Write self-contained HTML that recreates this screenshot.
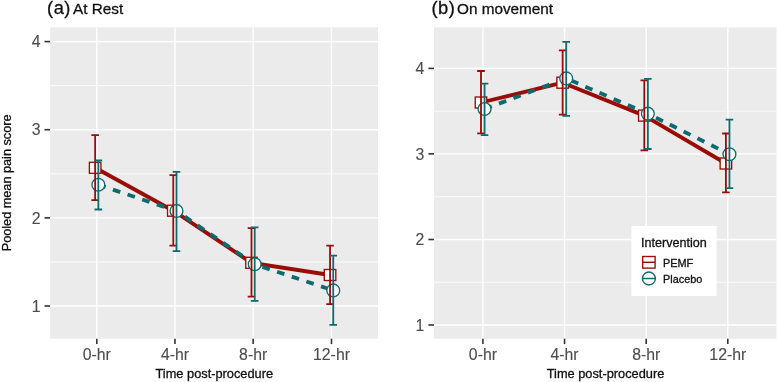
<!DOCTYPE html>
<html><head><meta charset="utf-8"><title>chart</title>
<style>
html,body{margin:0;padding:0;background:#fff;}
text{stroke-width:0.3px;} svg{display:block;font-family:"Liberation Sans",sans-serif;will-change:transform;}
</style></head><body>
<svg width="777" height="382" viewBox="0 0 777 382">
<rect width="777" height="382" fill="#fff"/>
<rect x="50.1" y="27.4" width="327.9" height="311.3" fill="#ebebeb"/>
<line x1="50.1" x2="378" y1="85.65" y2="85.65" stroke="#fff" stroke-width="0.8"/>
<line x1="50.1" x2="378" y1="173.8" y2="173.8" stroke="#fff" stroke-width="0.8"/>
<line x1="50.1" x2="378" y1="261.95" y2="261.95" stroke="#fff" stroke-width="0.8"/>
<line x1="50.1" x2="378" y1="41.6" y2="41.6" stroke="#fff" stroke-width="1.4"/>
<line x1="50.1" x2="378" y1="129.7" y2="129.7" stroke="#fff" stroke-width="1.4"/>
<line x1="50.1" x2="378" y1="217.9" y2="217.9" stroke="#fff" stroke-width="1.4"/>
<line x1="50.1" x2="378" y1="306.0" y2="306.0" stroke="#fff" stroke-width="1.4"/>
<line x1="96.8" x2="96.8" y1="27.4" y2="338.7" stroke="#fff" stroke-width="1.4"/>
<line x1="174.95" x2="174.95" y1="27.4" y2="338.7" stroke="#fff" stroke-width="1.4"/>
<line x1="253.15" x2="253.15" y1="27.4" y2="338.7" stroke="#fff" stroke-width="1.4"/>
<line x1="331.5" x2="331.5" y1="27.4" y2="338.7" stroke="#fff" stroke-width="1.4"/>
<polyline points="95.1,167.8 173.3,210.7 251.5,262.8 330.1,275.0" fill="none" stroke="#990d06" stroke-width="3.85" stroke-linejoin="round"/>
<polyline points="98.3,184.7 176.5,211.0 254.7,264.3 333.2,290.4" fill="none" stroke="#0f6a70" stroke-width="3.85" stroke-dasharray="7.72 7.72" stroke-linejoin="round"/>
<rect x="89.40" y="162.30" width="11.5" height="11" fill="#fff" stroke="#990d06" stroke-width="1.35"/>
<rect x="167.55" y="205.20" width="11.5" height="11" fill="#fff" stroke="#990d06" stroke-width="1.35"/>
<rect x="245.75" y="257.30" width="11.5" height="11" fill="#fff" stroke="#990d06" stroke-width="1.35"/>
<rect x="324.30" y="269.50" width="11.5" height="11" fill="#fff" stroke="#990d06" stroke-width="1.35"/>
<circle cx="98.35" cy="184.7" r="6.4" fill="#fff" stroke="#0f6a70" stroke-width="1.35"/>
<circle cx="176.50" cy="211.0" r="6.4" fill="#fff" stroke="#0f6a70" stroke-width="1.35"/>
<circle cx="254.70" cy="264.3" r="6.4" fill="#fff" stroke="#0f6a70" stroke-width="1.35"/>
<circle cx="333.25" cy="290.4" r="6.4" fill="#fff" stroke="#0f6a70" stroke-width="1.35"/>
<path d="M91.35 135.2H98.95M95.15 135.2V200.2M91.35 200.2H98.95" fill="none" stroke="#990d06" stroke-width="1.8"/>
<path d="M169.50 175.2H177.10M173.30 175.2V245.6M169.50 245.6H177.10" fill="none" stroke="#990d06" stroke-width="1.8"/>
<path d="M247.70 228.1H255.30M251.50 228.1V296.7M247.70 296.7H255.30" fill="none" stroke="#990d06" stroke-width="1.8"/>
<path d="M326.25 245.7H333.85M330.05 245.7V304.2M326.25 304.2H333.85" fill="none" stroke="#990d06" stroke-width="1.8"/>
<path d="M94.55 160.3H102.15M98.35 160.3V209.5M94.55 209.5H102.15" fill="none" stroke="#0f6a70" stroke-width="1.8"/>
<path d="M172.70 171.8H180.30M176.50 171.8V251.1M172.70 251.1H180.30" fill="none" stroke="#0f6a70" stroke-width="1.8"/>
<path d="M250.90 227.3H258.50M254.70 227.3V300.8M250.90 300.8H258.50" fill="none" stroke="#0f6a70" stroke-width="1.8"/>
<path d="M329.45 255.7H337.05M333.25 255.7V324.8M329.45 324.8H337.05" fill="none" stroke="#0f6a70" stroke-width="1.8"/>
<rect x="434" y="27.4" width="342.5" height="311.3" fill="#ebebeb"/>
<line x1="434" x2="776.5" y1="111.15" y2="111.15" stroke="#fff" stroke-width="0.8"/>
<line x1="434" x2="776.5" y1="196.7" y2="196.7" stroke="#fff" stroke-width="0.8"/>
<line x1="434" x2="776.5" y1="282.25" y2="282.25" stroke="#fff" stroke-width="0.8"/>
<line x1="434" x2="776.5" y1="68.4" y2="68.4" stroke="#fff" stroke-width="1.4"/>
<line x1="434" x2="776.5" y1="153.9" y2="153.9" stroke="#fff" stroke-width="1.4"/>
<line x1="434" x2="776.5" y1="239.5" y2="239.5" stroke="#fff" stroke-width="1.4"/>
<line x1="434" x2="776.5" y1="325.0" y2="325.0" stroke="#fff" stroke-width="1.4"/>
<line x1="482.9" x2="482.9" y1="27.4" y2="338.7" stroke="#fff" stroke-width="1.4"/>
<line x1="564.55" x2="564.55" y1="27.4" y2="338.7" stroke="#fff" stroke-width="1.4"/>
<line x1="646.2" x2="646.2" y1="27.4" y2="338.7" stroke="#fff" stroke-width="1.4"/>
<line x1="727.8" x2="727.8" y1="27.4" y2="338.7" stroke="#fff" stroke-width="1.4"/>
<polyline points="481.0,102.5 562.6,82.7 644.3,115.6 725.9,163.5" fill="none" stroke="#990d06" stroke-width="3.85" stroke-linejoin="round"/>
<polyline points="484.5,109.0 566.2,78.4 647.9,113.7 729.4,154.2" fill="none" stroke="#0f6a70" stroke-width="3.85" stroke-dasharray="7.72 7.72" stroke-linejoin="round"/>
<rect x="475.25" y="97.00" width="11.5" height="11" fill="#fff" stroke="#990d06" stroke-width="1.35"/>
<rect x="556.90" y="77.20" width="11.5" height="11" fill="#fff" stroke="#990d06" stroke-width="1.35"/>
<rect x="638.55" y="110.10" width="11.5" height="11" fill="#fff" stroke="#990d06" stroke-width="1.35"/>
<rect x="720.15" y="158.00" width="11.5" height="11" fill="#fff" stroke="#990d06" stroke-width="1.35"/>
<circle cx="484.55" cy="109.0" r="6.4" fill="#fff" stroke="#0f6a70" stroke-width="1.35"/>
<circle cx="566.20" cy="78.4" r="6.4" fill="#fff" stroke="#0f6a70" stroke-width="1.35"/>
<circle cx="647.85" cy="113.7" r="6.4" fill="#fff" stroke="#0f6a70" stroke-width="1.35"/>
<circle cx="729.45" cy="154.2" r="6.4" fill="#fff" stroke="#0f6a70" stroke-width="1.35"/>
<path d="M477.20 71.0H484.80M481.00 71.0V133.3M477.20 133.3H484.80" fill="none" stroke="#990d06" stroke-width="1.8"/>
<path d="M558.85 50.4H566.45M562.65 50.4V114.6M558.85 114.6H566.45" fill="none" stroke="#990d06" stroke-width="1.8"/>
<path d="M640.50 80.4H648.10M644.30 80.4V150.3M640.50 150.3H648.10" fill="none" stroke="#990d06" stroke-width="1.8"/>
<path d="M722.10 133.5H729.70M725.90 133.5V192.4M722.10 192.4H729.70" fill="none" stroke="#990d06" stroke-width="1.8"/>
<path d="M480.75 83.6H488.35M484.55 83.6V135.1M480.75 135.1H488.35" fill="none" stroke="#0f6a70" stroke-width="1.8"/>
<path d="M562.40 41.8H570.00M566.20 41.8V115.9M562.40 115.9H570.00" fill="none" stroke="#0f6a70" stroke-width="1.8"/>
<path d="M644.05 78.8H651.65M647.85 78.8V149.0M644.05 149.0H651.65" fill="none" stroke="#0f6a70" stroke-width="1.8"/>
<path d="M725.65 119.6H733.25M729.45 119.6V188.2M725.65 188.2H733.25" fill="none" stroke="#0f6a70" stroke-width="1.8"/>
<line x1="44.5" x2="50.1" y1="41.6" y2="41.6" stroke="#333" stroke-width="1.6"/>
<text x="40.5" y="47.2" font-size="15.8" fill="#4d4d4d" stroke="#4d4d4d" style="stroke-width:0.12px" text-anchor="end">4</text>
<line x1="44.5" x2="50.1" y1="129.7" y2="129.7" stroke="#333" stroke-width="1.6"/>
<text x="40.5" y="135.29999999999998" font-size="15.8" fill="#4d4d4d" stroke="#4d4d4d" style="stroke-width:0.12px" text-anchor="end">3</text>
<line x1="44.5" x2="50.1" y1="217.9" y2="217.9" stroke="#333" stroke-width="1.6"/>
<text x="40.5" y="223.5" font-size="15.8" fill="#4d4d4d" stroke="#4d4d4d" style="stroke-width:0.12px" text-anchor="end">2</text>
<line x1="44.5" x2="50.1" y1="306.0" y2="306.0" stroke="#333" stroke-width="1.6"/>
<text x="40.5" y="311.6" font-size="15.8" fill="#4d4d4d" stroke="#4d4d4d" style="stroke-width:0.12px" text-anchor="end">1</text>
<line x1="428.4" x2="434" y1="68.4" y2="68.4" stroke="#333" stroke-width="1.6"/>
<text x="424.4" y="74.0" font-size="15.8" fill="#4d4d4d" stroke="#4d4d4d" style="stroke-width:0.12px" text-anchor="end">4</text>
<line x1="428.4" x2="434" y1="153.9" y2="153.9" stroke="#333" stroke-width="1.6"/>
<text x="424.4" y="159.5" font-size="15.8" fill="#4d4d4d" stroke="#4d4d4d" style="stroke-width:0.12px" text-anchor="end">3</text>
<line x1="428.4" x2="434" y1="239.5" y2="239.5" stroke="#333" stroke-width="1.6"/>
<text x="424.4" y="245.1" font-size="15.8" fill="#4d4d4d" stroke="#4d4d4d" style="stroke-width:0.12px" text-anchor="end">2</text>
<line x1="428.4" x2="434" y1="325.0" y2="325.0" stroke="#333" stroke-width="1.6"/>
<text x="424.4" y="330.6" font-size="15.8" fill="#4d4d4d" stroke="#4d4d4d" style="stroke-width:0.12px" text-anchor="end">1</text>
<line x1="96.8" x2="96.8" y1="338.7" y2="344.09999999999997" stroke="#333" stroke-width="1.6"/>
<text x="96.8" y="360.4" font-size="15.8" fill="#4d4d4d" stroke="#4d4d4d" style="stroke-width:0.12px" text-anchor="middle">0-hr</text>
<line x1="174.95" x2="174.95" y1="338.7" y2="344.09999999999997" stroke="#333" stroke-width="1.6"/>
<text x="174.95" y="360.4" font-size="15.8" fill="#4d4d4d" stroke="#4d4d4d" style="stroke-width:0.12px" text-anchor="middle">4-hr</text>
<line x1="253.15" x2="253.15" y1="338.7" y2="344.09999999999997" stroke="#333" stroke-width="1.6"/>
<text x="253.15" y="360.4" font-size="15.8" fill="#4d4d4d" stroke="#4d4d4d" style="stroke-width:0.12px" text-anchor="middle">8-hr</text>
<line x1="331.5" x2="331.5" y1="338.7" y2="344.09999999999997" stroke="#333" stroke-width="1.6"/>
<text x="331.5" y="360.4" font-size="15.8" fill="#4d4d4d" stroke="#4d4d4d" style="stroke-width:0.12px" text-anchor="middle">12-hr</text>
<line x1="482.9" x2="482.9" y1="338.7" y2="344.09999999999997" stroke="#333" stroke-width="1.6"/>
<text x="482.9" y="360.4" font-size="15.8" fill="#4d4d4d" stroke="#4d4d4d" style="stroke-width:0.12px" text-anchor="middle">0-hr</text>
<line x1="564.55" x2="564.55" y1="338.7" y2="344.09999999999997" stroke="#333" stroke-width="1.6"/>
<text x="564.55" y="360.4" font-size="15.8" fill="#4d4d4d" stroke="#4d4d4d" style="stroke-width:0.12px" text-anchor="middle">4-hr</text>
<line x1="646.2" x2="646.2" y1="338.7" y2="344.09999999999997" stroke="#333" stroke-width="1.6"/>
<text x="646.2" y="360.4" font-size="15.8" fill="#4d4d4d" stroke="#4d4d4d" style="stroke-width:0.12px" text-anchor="middle">8-hr</text>
<line x1="727.8" x2="727.8" y1="338.7" y2="344.09999999999997" stroke="#333" stroke-width="1.6"/>
<text x="727.8" y="360.4" font-size="15.8" fill="#4d4d4d" stroke="#4d4d4d" style="stroke-width:0.12px" text-anchor="middle">12-hr</text>
<text x="214.3" y="378.2" font-size="12.8" fill="#111" stroke="#111" text-anchor="middle">Time post-procedure</text>
<text x="605.5" y="378.2" font-size="12.8" fill="#111" stroke="#111" text-anchor="middle">Time post-procedure</text>
<text transform="translate(10.6,182.9) rotate(-90)" font-size="12.7" fill="#111" stroke="#111" text-anchor="middle">Pooled mean pain score</text>
<text x="47.1" y="13.7" font-size="18.3" fill="#111" stroke="#111" letter-spacing="0.5">(a)</text><text x="73" y="13.7" font-size="15.3" fill="#111" stroke="#111">At Rest</text>
<text x="431.5" y="13.7" font-size="18.3" fill="#111" stroke="#111" letter-spacing="0.5">(b)</text><text x="457" y="13.7" font-size="15.3" fill="#111" stroke="#111">On movement</text>
<rect x="631.4" y="226" width="85.2" height="70" fill="#fff"/>
<text x="641" y="247.1" font-size="12.6" fill="#111" stroke="#111">Intervention</text>
<rect x="642.7" y="256.5" width="12.4" height="11.6" fill="#fff" stroke="#990d06" stroke-width="1.35"/><line x1="642.7" x2="655.1" y1="262.3" y2="262.3" stroke="#990d06" stroke-width="1.5"/>
<circle cx="648.9" cy="278.5" r="6.5" fill="#fff" stroke="#0f6a70" stroke-width="1.35"/><line x1="642.4" x2="655.4" y1="278.5" y2="278.5" stroke="#0f6a70" stroke-width="1.5"/>
<text x="663" y="266.8" font-size="10.9" fill="#111" stroke="#111">PEMF</text>
<text x="663" y="282.6" font-size="10.9" fill="#111" stroke="#111">Placebo</text>
</svg>
</body></html>
